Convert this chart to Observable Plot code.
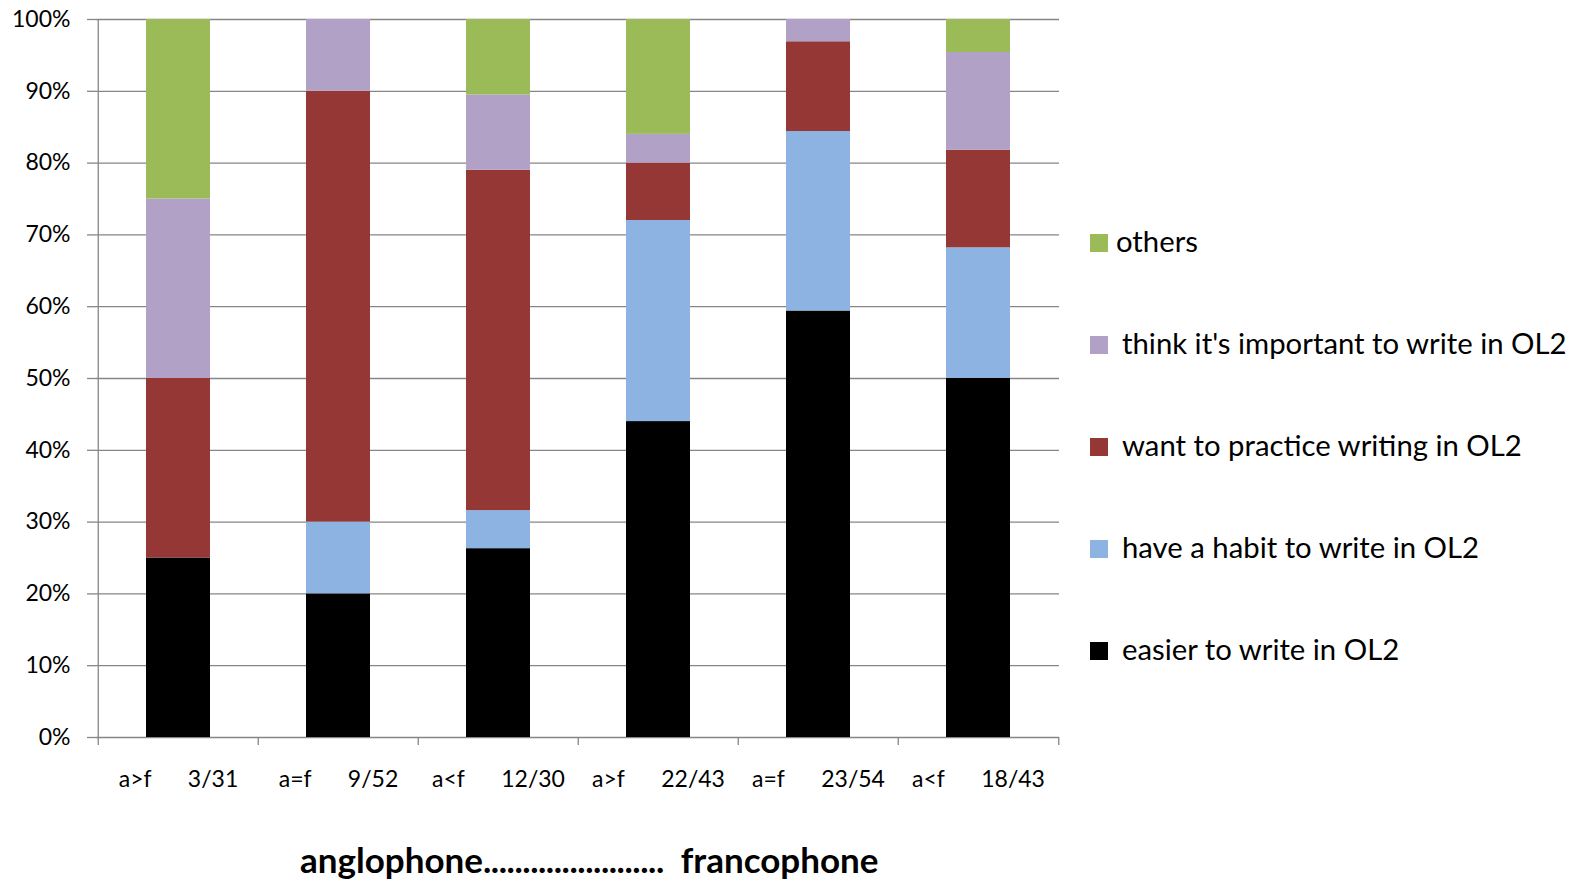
<!DOCTYPE html>
<html><head><meta charset="utf-8">
<script src="https://cdn.jsdelivr.net/npm/d3@7"></script>
<script src="https://cdn.jsdelivr.net/npm/@observablehq/plot@0.6"></script>
<style>
body{margin:0;background:#fff;font-family:Lato,sans-serif;color:#000;}
#wrap{position:relative;width:1585px;height:879px;overflow:hidden;background:#fff;}
#chart svg{display:block;}
.sw{position:absolute;width:18px;height:18px;}
.lt{position:absolute;font-size:29.3px;line-height:29px;white-space:nowrap;}
#title{position:absolute;left:300px;top:842px;font-size:35px;line-height:34px;font-weight:bold;white-space:nowrap;}
#title .dots{letter-spacing:-0.45px;}
</style></head><body><div id="wrap"><div id="chart"></div><div id="legend"></div><div id="title"></div></div>
<script>
// ---- data ----
const groups = ["a>f", "a=f", "a<f", "a>f", "a=f", "a<f"];
const ratios = ["3/31", "9/52", "12/30", "22/43", "23/54", "18/43"];
const series = ["easier to write in OL2", "have a habit to write in OL2", "want to practice writing in OL2", "think it's important to write in OL2", "others"];
const easier    = [25, 20, 26.3, 44, 59.4, 50];
const habit     = [0, 10, 5.3, 28, 25, 18.2];
const practice  = [25, 60, 47.4, 8, 12.5, 13.6];
const important = [25, 10, 10.5, 4, 3.1, 13.6];
const others    = [25, 0, 10.5, 16, 0, 4.6];
const colors = ["#000000", "#8DB3E2", "#953735", "#B2A1C7", "#9BBB59"];
const yTicks = [0, 10, 20, 30, 40, 50, 60, 70, 80, 90, 100];
const titleLeft = "anglophone";
const titleDots = ".......................";
const titleRight = "francophone";

// ---- build ----
const gap = "\u00a0".repeat(6) + "\u200a";
const categories = groups.map((g, i) => g + gap + ratios[i]);
const seriesValues = [easier, habit, practice, important, others];
const rows = [];
series.forEach((s, si) => categories.forEach((c, ci) => rows.push({cat: c, series: s, value: seriesValues[si][ci]})));

const W = 1585, H = 820, mL = 96, mR = 526, mT = 19, mB = 83;
const step = (W - mL - mR) / categories.length;
const grid = "#868686";

const plot = Plot.plot({
  width: W, height: H,
  marginLeft: mL, marginRight: mR, marginTop: mT, marginBottom: mB,
  style: {fontFamily: "Lato, sans-serif", fontSize: "23px", background: "#fff", color: "#000"},
  x: {domain: categories, paddingInner: 0.6, paddingOuter: 0.3, label: null},
  y: {domain: [0, 100], label: null},
  color: {domain: series, range: colors},
  marks: [
    Plot.ruleY(yTicks, {stroke: grid, strokeWidth: 1.3}),
    Plot.ruleX([categories[0]], {dx: -step / 2, stroke: grid, strokeWidth: 1.3}),
    Plot.ruleX(categories, {x: d => d, dx: -step / 2, y1: 0, y2: 0, insetBottom: -8, stroke: grid, strokeWidth: 1.3}),
    Plot.ruleX([categories[categories.length - 1]], {x: d => d, dx: step / 2, y1: 0, y2: 0, insetBottom: -8, stroke: grid, strokeWidth: 1.3}),
    Plot.barY(rows, {x: "cat", y: "value", fill: "series"}),
    Plot.axisY({ticks: yTicks, tickFormat: d => d + "%", tickSize: 9, tickPadding: 17, stroke: grid, strokeWidth: 1.3, strokeOpacity: 1, label: null}),
    Plot.axisX({tickSize: 0, tickPadding: 33, label: null})
  ]
});
document.getElementById("chart").appendChild(plot);

// legend (top entry = last series)
const leg = document.getElementById("legend");
const centers = [651, 549, 447, 345, 243];
const textX = [1122, 1122, 1122, 1122, 1116];
series.forEach((s, i) => {
  const sw = document.createElement("div");
  sw.className = "sw";
  sw.style.left = "1090px";
  sw.style.top = (centers[i] - 9) + "px";
  sw.style.background = colors[i];
  leg.appendChild(sw);
  const t = document.createElement("div");
  t.className = "lt";
  t.style.left = textX[i] + "px";
  t.style.top = (centers[i] - 16.7) + "px";
  t.textContent = s;
  leg.appendChild(t);
});

const title = document.getElementById("title");
title.appendChild(document.createTextNode(titleLeft));
const dots = document.createElement("span");
dots.className = "dots";
dots.textContent = titleDots;
title.appendChild(dots);
title.appendChild(document.createTextNode("\u00a0\u00a0" + titleRight));
</script></body></html>
